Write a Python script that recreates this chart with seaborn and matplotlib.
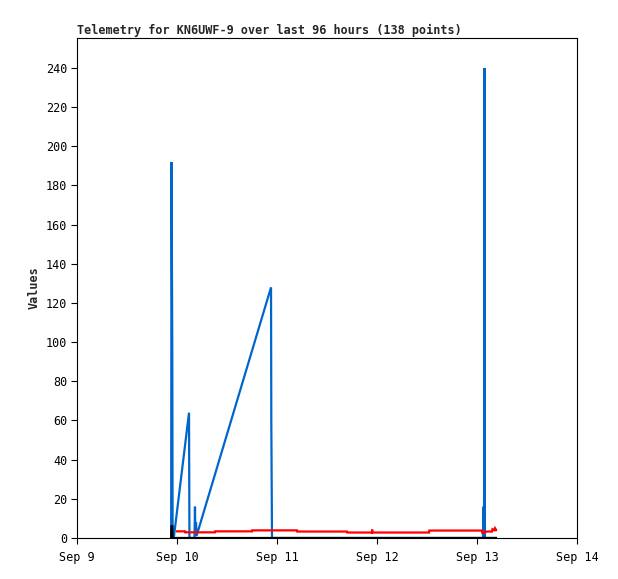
import pandas as pd
import matplotlib
matplotlib.use("Agg")
import matplotlib.pyplot as plt
import matplotlib.dates as mdates
import seaborn as sns

# telemetry values
blue_time = ["2023-09-09 22:36", "2023-09-09 22:41", "2023-09-09 22:52", "2023-09-09 22:57",
             "2023-09-09 23:17", "2023-09-10 02:53", "2023-09-10 02:59", "2023-09-10 04:12",
             "2023-09-10 04:19", "2023-09-10 04:24", "2023-09-10 04:34", "2023-09-10 04:41",
             "2023-09-10 22:34", "2023-09-10 22:38", "2023-09-10 22:48", "2023-09-13 01:26",
             "2023-09-13 01:31", "2023-09-13 01:35", "2023-09-13 01:47", "2023-09-13 01:49",
             "2023-09-13 01:52", "2023-09-13 04:48"]
blue_val = [0, 192, 96, 0, 1, 64, 0, 0, 16, 2, 8, 1, 128, 60, 0, 0, 16, 0, 0, 240, 0, 0]

red_time = ["2023-09-09 23:46", "2023-09-10 01:55", "2023-09-10 01:58", "2023-09-10 09:07",
            "2023-09-10 09:10", "2023-09-10 18:00", "2023-09-10 18:03", "2023-09-11 04:48",
            "2023-09-11 04:51", "2023-09-11 16:48", "2023-09-11 16:51", "2023-09-11 22:48",
            "2023-09-11 22:50", "2023-09-11 22:53", "2023-09-12 12:29", "2023-09-12 12:32",
            "2023-09-13 01:12", "2023-09-13 01:16", "2023-09-13 01:55", "2023-09-13 01:58",
            "2023-09-13 03:36", "2023-09-13 03:43", "2023-09-13 04:05", "2023-09-13 04:19",
            "2023-09-13 04:34", "2023-09-13 04:48"]
red_val = [3.4, 3.4, 2.9, 2.9, 3.4, 3.4, 3.9, 3.9, 3.3, 3.3, 2.8, 2.8, 4.3, 2.8, 2.8, 3.8,
           3.8, 2.7, 2.7, 3.3, 3.3, 4.5, 4.0, 5.0, 4.0, 4.3]

black_time = ["2023-09-09 22:37", "2023-09-09 22:41", "2023-09-09 22:52", "2023-09-09 22:55",
              "2023-09-13 04:48"]
black_val = [0, 6, 6, 0, 0]

sns.set_theme(style="ticks")
plt.rcParams['font.family'] = ['DejaVu Sans Mono', 'DejaVu Sans']

def frame(t, v):
    return pd.DataFrame({"time": pd.to_datetime(t), "value": v})

fig = plt.figure(figsize=(6.18, 5.79), dpi=100)
ax = fig.add_axes([77 / 618, 41 / 579, 500 / 618, 500 / 579])

line_kw = dict(estimator=None, sort=False, lw=1.6,
               solid_capstyle="butt", solid_joinstyle="miter")
sns.lineplot(data=frame(blue_time, blue_val), x="time", y="value", ax=ax,
             color="#0066cc", **line_kw)
sns.lineplot(data=frame(red_time, red_val), x="time", y="value", ax=ax,
             color="#ff0000", **line_kw)
sns.lineplot(data=frame(black_time, black_val), x="time", y="value", ax=ax,
             color="black", **line_kw)

ax.set_xlim(pd.Timestamp("2023-09-09"), pd.Timestamp("2023-09-14"))
ax.set_ylim(0, 255.3)
ax.set_yticks(range(0, 241, 20))
ax.xaxis.set_major_locator(mdates.DayLocator())
ax.xaxis.set_major_formatter(mdates.DateFormatter("%b %-d"))

for s in ax.spines.values():
    s.set_color("black")
    s.set_linewidth(0.8)
ax.tick_params(length=4, width=0.8, colors="black", labelsize=8.5, pad=3)
ax.tick_params(axis="x", pad=5)

ax.set_xlabel("")
ax.set_ylabel("Values", fontsize=8.5, fontweight="bold")
ax.set_title("Telemetry for KN6UWF-9 over last 96 hours (138 points)",
             loc="left", fontsize=8.5, fontweight="bold", pad=3)

fig.savefig("out.png", dpi=100)
